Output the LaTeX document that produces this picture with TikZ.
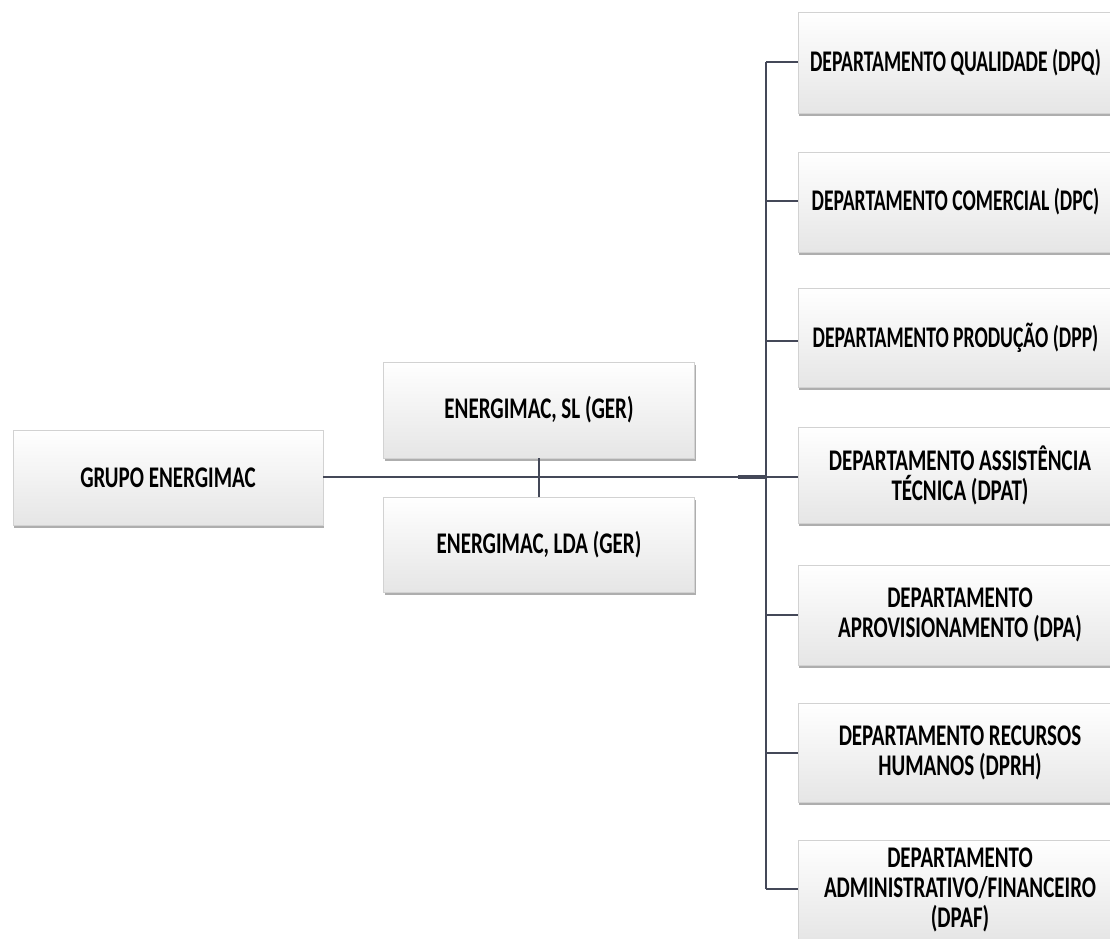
\documentclass[tikz,border=0pt]{standalone}
\usepackage{fontspec}
\setmainfont{Carlito}
\usetikzlibrary{shadows}
\newcommand{\sq}[1]{\scalebox{0.70}[1]{#1}}
\newcommand{\sqn}[1]{\hspace*{-9pt}\scalebox{0.655}[1]{#1}}
\definecolor{linec}{RGB}{68,72,88}
\tikzset{
  orgbox/.style={draw=gray!35, line width=0.6pt, top color=white, bottom color=gray!20,
    drop shadow={shadow xshift=1pt, shadow yshift=-3pt, opacity=0.7, fill=gray!90},
    align=center, font=\fontsize{30}{30}\selectfont\bfseries, inner sep=2pt},
  conn/.style={draw=linec, line width=1.8pt},
}
\begin{document}
\begin{tikzpicture}[x=1pt,y=-1pt]
\fill[white] (0,0) rectangle (1110,938);
\useasboundingbox (0,0) rectangle (1110,938);
\begin{scope}
\clip (0,0) rectangle (1110,938);
\node[orgbox, minimum width=310, minimum height=95] (grupo) at (168,477.5) {\sq{GRUPO ENERGIMAC}};
\node[orgbox, minimum width=311, minimum height=96] (sl) at (539,410) {\sq{ENERGIMAC, SL (GER)}};
\node[orgbox, minimum width=311, minimum height=95] (lda) at (539,544.5) {\sq{ENERGIMAC, LDA (GER)}};
\node[orgbox, minimum width=324, minimum height=101] (dpq) at (960,62.5) {\sqn{DEPARTAMENTO QUALIDADE (DPQ)}};
\node[orgbox, minimum width=324, minimum height=100] (dpc) at (960,202) {\sqn{DEPARTAMENTO COMERCIAL (DPC)}};
\node[orgbox, minimum width=324, minimum height=99] (dpp) at (960,337.5) {\sqn{DEPARTAMENTO PRODUÇÃO (DPP)}};
\node[orgbox, minimum width=324, minimum height=96] (dpat) at (960,475) {\sq{DEPARTAMENTO ASSISTÊNCIA}\\\sq{TÉCNICA (DPAT)}};
\node[orgbox, minimum width=324, minimum height=100] (dpa) at (960,615) {\sq{DEPARTAMENTO}\\\sq{APROVISIONAMENTO (DPA)}};
\node[orgbox, minimum width=324, minimum height=99] (dprh) at (960,752.5) {\sq{DEPARTAMENTO RECURSOS}\\\sq{HUMANOS (DPRH)}};
\node[orgbox, minimum width=324, minimum height=100] (dpaf) at (960,890) {\sq{DEPARTAMENTO}\\\sq{ADMINISTRATIVO/FINANCEIRO}\\\sq{(DPAF)}};
\end{scope}
\coordinate (bustop) at (766,62);
\coordinate (busbot) at (766,889);
\coordinate (hub) at (766,477);
\coordinate (thk) at (738,477);
\draw[conn] (sl.south) -- (lda.north);
\draw[conn] (grupo.east |- hub) -- (hub) -- (dpat.west |- hub);
\draw[draw=linec, line width=3.6pt] (thk) -- (hub);
\draw[conn] (bustop) -- (busbot);
\foreach \n/\yy in {dpq/62, dpc/201, dpp/341, dpa/615, dprh/753, dpaf/889}{
  \draw[conn] (766,\yy) -- (\n.west |- 0,\yy);
}
\end{tikzpicture}
\end{document}
